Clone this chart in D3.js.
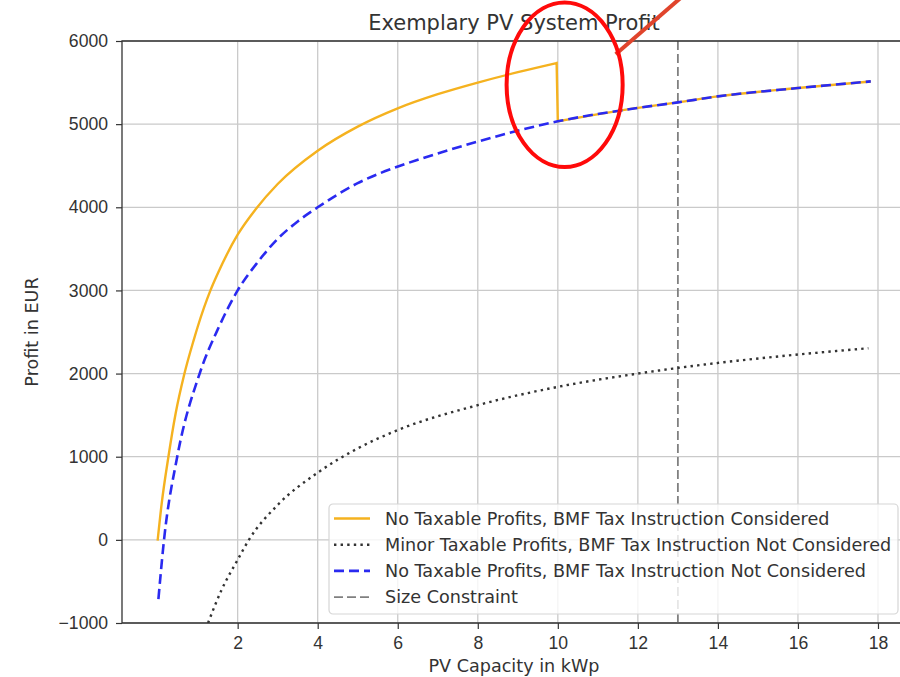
<!DOCTYPE html>
<html>
<head>
<meta charset="utf-8">
<script src="https://cdn.jsdelivr.net/npm/d3@7"></script>
<style>
  body { margin: 0; background: #fff; }
  svg { display: block; font-family: "DejaVu Sans", sans-serif; }
  .tick text { font-size: 17.6px; fill: #333; }
</style>
</head>
<body>
<script>
"use strict"

// capacity in kWp / profit in EUR
const orange_x = [0.0, 0.1, 0.27, 0.45, 0.66, 0.9, 1.0, 1.32, 1.5, 2.0, 2.44, 3.0, 4.0, 5.0, 6.0, 7.0, 8.0, 9.0, 9.97]
const orange_y = [-10, 430, 1000, 1520, 1980, 2400, 2560, 3000, 3200, 3670, 3970, 4280, 4680, 4970, 5190, 5360, 5500, 5625, 5735]
const blue_x = [0.02, 0.16, 0.49, 1.05, 1.53, 2.0, 2.5, 3.0, 3.5, 4.0, 5.0, 6.06, 6.56, 8.0, 10.0, 12.0, 13.0, 14.0, 16.0, 17.82]
const blue_y = [-712, 0, 1000, 2000, 2560, 3000, 3340, 3620, 3830, 4000, 4290, 4500, 4580, 4790, 5034, 5195, 5262, 5334, 5434, 5514]
const dot_x = [1.26, 1.6, 2.0, 2.28, 3.0, 4.0, 5.0, 6.0, 8.0, 10.0, 12.0, 13.0, 14.0, 16.0, 17.76]
const dot_y = [-1000, -600, -240, 0, 420, 808, 1100, 1320, 1620, 1840, 2000, 2068, 2128, 2229, 2305]
const size_limit = 13
const x_ticks = [2, 4, 6, 8, 10, 12, 14, 16, 18]
const y_ticks = [-1000, 0, 1000, 2000, 3000, 4000, 5000, 6000]
const labels = [
   'No Taxable Profits, BMF Tax Instruction Considered',
   'Minor Taxable Profits, BMF Tax Instruction Not Considered',
   'No Taxable Profits, BMF Tax Instruction Not Considered',
   'Size Constraint'
]

// the red circle drawn over the jump at 10 kWp
const mark_x = 10.17, mark_y = 5474, mark_rx = 1.45, mark_ry = 990

const w = 900, h = 677
const pl = 122, pr = 906, pt = 41, pb = 623

const x_scale = d3.scaleLinear([-0.89, 18.7], [pl, pr])
const y_scale = d3.scaleLinear([-1000, 6000], [pb, pt])

const svg = d3.select('body')
   .append('svg')
      .attr('width', w)
      .attr('height', h)

svg.append('defs').append('clipPath')
   .attr('id', 'plot')
   .append('rect')
      .attr('x', pl).attr('y', pt)
      .attr('width', pr - pl).attr('height', pb - pt)

// grid
svg.append('g')
   .selectAll('line')
   .data(x_ticks)
   .join('line')
      .attr('x1', d => x_scale(d)).attr('x2', d => x_scale(d))
      .attr('y1', pt).attr('y2', pb)
      .attr('stroke', '#cacaca').attr('stroke-width', 1.3)
svg.append('g')
   .selectAll('line')
   .data(y_ticks)
   .join('line')
      .attr('x1', pl).attr('x2', pr)
      .attr('y1', d => y_scale(d)).attr('y2', d => y_scale(d))
      .attr('stroke', '#cacaca').attr('stroke-width', 1.3)

const fmt = d => d < 0 ? '\u2212' + Math.abs(d) : String(d)

svg.append('g')
   .attr('transform', `translate(0, ${pb})`)
   .call(d3.axisBottom(x_scale).tickValues(x_ticks).tickSizeOuter(0).tickSize(6).tickPadding(8))
   .call(g => g.select('.domain').remove())
   .call(g => g.selectAll('.tick line').attr('stroke', '#333').attr('stroke-width', 1.2))

svg.append('g')
   .attr('transform', `translate(${pl}, 0)`)
   .call(d3.axisLeft(y_scale).tickValues(y_ticks).tickFormat(fmt).tickSizeOuter(0).tickSize(6).tickPadding(8))
   .call(g => g.select('.domain').remove())
   .call(g => g.selectAll('.tick line').attr('stroke', '#333').attr('stroke-width', 1.2))

const plot = svg.append('g').attr('clip-path', 'url(#plot)')
const line = d3.line()
   .x(d => x_scale(d[0]))
   .y(d => y_scale(d[1]))
   .curve(d3.curveMonotoneX)

// size constraint
plot.append('line')
   .attr('x1', x_scale(size_limit)).attr('x2', x_scale(size_limit))
   .attr('y1', pt).attr('y2', pb)
   .attr('stroke', '#808080').attr('stroke-width', 1.8)
   .attr('stroke-dasharray', '9,4')

// orange beyond 10 kWp runs along the blue curve
const orange_pts = orange_x.map((x, i) => [x, orange_y[i]])
const blue_pts = blue_x.map((x, i) => [x, blue_y[i]])
const tail = blue_pts.filter(d => d[0] >= 10)

plot.append('path')
   .attr('d', line(orange_pts) + 'L' + x_scale(10) + ',' + y_scale(tail[0][1]) + line(tail).replace(/^M/, 'L'))
   .attr('fill', 'none')
   .attr('stroke', '#f5b21f').attr('stroke-width', 2.4)

plot.append('path')
   .attr('d', line(dot_x.map((x, i) => [x, dot_y[i]])))
   .attr('fill', 'none')
   .attr('stroke', '#333').attr('stroke-width', 2.4)
   .attr('stroke-dasharray', '2.4,4.2')

plot.append('path')
   .attr('d', line(blue_pts))
   .attr('fill', 'none')
   .attr('stroke', '#2a2af0').attr('stroke-width', 2.6)
   .attr('stroke-dasharray', '10,5')

// spines
svg.append('path')
   .attr('d', `M${pr},${pt}H${pl}V${pb}H${pr}`)
   .attr('fill', 'none')
   .attr('stroke', '#333').attr('stroke-width', 1.3)

// legend
const legend = svg.append('g').attr('transform', 'translate(329, 504)')
legend.append('rect')
   .attr('width', 569).attr('height', 110)
   .attr('rx', 4)
   .attr('fill', '#fff').attr('fill-opacity', 0.8)
   .attr('stroke', '#d6d6d6').attr('stroke-width', 1.2)

const styles = [
   { c: '#f5b21f', dash: null, sw: 2.4 },
   { c: '#333', dash: '2.4,4.2', sw: 2.4 },
   { c: '#2a2af0', dash: '10,5', sw: 2.6 },
   { c: '#808080', dash: '9,4', sw: 1.8 }
]
labels.forEach((t, i) => {
   const yy = 14.5 + i * 26.2
   legend.append('line')
      .attr('x1', 5).attr('x2', 41)
      .attr('y1', yy).attr('y2', yy)
      .attr('stroke', styles[i].c)
      .attr('stroke-width', styles[i].sw)
      .attr('stroke-dasharray', styles[i].dash)
   legend.append('text')
      .attr('x', 56).attr('y', yy)
      .attr('dy', '0.36em')
      .attr('font-size', 17.6)
      .attr('fill', '#333')
      .text(t)
})

// titles
svg.append('text')
   .attr('x', (pl + pr) / 2).attr('y', 30)
   .attr('text-anchor', 'middle')
   .attr('font-size', 21)
   .attr('fill', '#333')
   .text('Exemplary PV System Profit')

svg.append('text')
   .attr('x', (pl + pr) / 2).attr('y', 672)
   .attr('text-anchor', 'middle')
   .attr('font-size', 17.6)
   .attr('fill', '#333')
   .text('PV Capacity in kWp')

svg.append('text')
   .attr('transform', `translate(38, ${(pt + pb) / 2}) rotate(-90)`)
   .attr('text-anchor', 'middle')
   .attr('font-size', 17.6)
   .attr('fill', '#333')
   .text('Profit in EUR')

// red annotation
const ecx = x_scale(mark_x), ecy = y_scale(mark_y)
const erx = x_scale(mark_x + mark_rx) - ecx, ery = ecy - y_scale(mark_y + mark_ry)
svg.append('line')
   .attr('x1', ecx + erx * 0.88).attr('y1', ecy - ery * 0.37)
   .attr('x2', ecx + erx * 2.4).attr('y2', ecy - ery * 1.3)
   .attr('stroke', '#e0442c').attr('stroke-width', 4)
svg.append('ellipse')
   .attr('cx', ecx).attr('cy', ecy)
   .attr('rx', erx).attr('ry', ery)
   .attr('fill', 'none')
   .attr('stroke', '#ff0a0a').attr('stroke-width', 4)
</script>
</body>
</html>
